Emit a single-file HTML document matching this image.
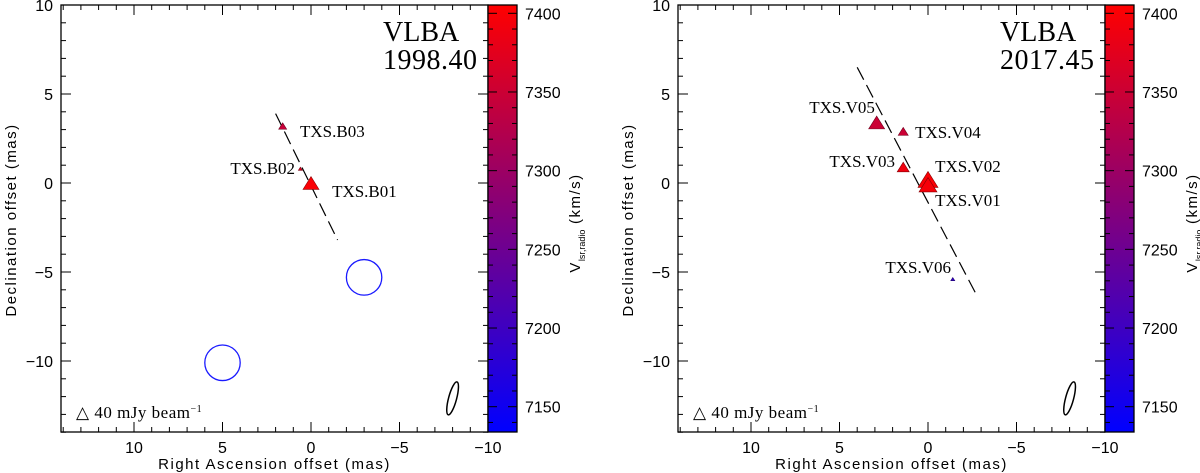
<!DOCTYPE html>
<html><head><meta charset="utf-8"><style>
html,body{margin:0;padding:0;background:#fff;}
svg{display:block;}
.tk{font-family:"Liberation Sans",sans-serif;font-size:16px;fill:#000;}
.ax{font-family:"Liberation Sans",sans-serif;font-size:15px;letter-spacing:1.5px;fill:#000;}
.sf{font-family:"Liberation Serif",serif;fill:#000;}
</style></head><body>
<svg id="fig" width="1200" height="473" viewBox="0 0 1200 473" xmlns="http://www.w3.org/2000/svg"></svg>
<script>
// Panel 1 (1998.40)
const p1Names = ["TXS.B01","TXS.B02","TXS.B03"];
const p1RA = [0, 0.6, 1.6];
const p1Dec = [0, 0.8, 3.2];
const p1Vel = [7400, 7370, 7345];
const p1Size = [16, 4, 8];
const p1LabelRA = [-1.19, 0.9, 0.62];
const p1LabelDec = [-0.79, 0.5, 2.58];
const p1Anchor = ["start","end","start"];
const p1Line = [[2.0, 3.9], [-1.5, -3.2]];
const p1Circles = [[-3, -5.3], [5, -10.1]];
// Panel 2 (2017.45)
const p2Names = ["TXS.V05","TXS.V04","TXS.V03","TXS.V02","TXS.V01","TXS.V06"];
const p2RA = [2.9, 1.4, 1.4, 0, 0, -1.4];
const p2Dec = [3.4, 2.9, 0.9, 0.2, -0.1, -5.4];
const p2Vel = [7350, 7350, 7390, 7400, 7395, 7190];
const p2Size = [16, 10, 12, 20, 18, 4];
const p2LabelRA = [3.0, 0.73, 1.86, -0.4, -0.4, -1.3];
const p2LabelDec = [3.93, 2.53, 0.9, 0.62, -1.29, -5.06];
const p2Anchor = ["end","start","end","start","start","end"];
const p2Line = [[4.0, 6.5], [-2.8, -6.4]];
const p2Circles = [];
const xTicks = [10, 5, 0, -5, -10];
const yTicks = [10, 5, 0, -5, -10];
const cbTicks = [7400, 7350, 7300, 7250, 7200, 7150];

const NS = "http://www.w3.org/2000/svg";
const svg = document.getElementById("fig");
function mk(tag, attrs, parent, text){
  const e = document.createElementNS(NS, tag);
  for (const k in attrs) e.setAttribute(k, attrs[k]);
  if (text !== undefined) e.textContent = text;
  (parent||svg).appendChild(e);
  return e;
}
function vrgb(v){
  let t = (v - 7134) / (7405 - 7134); t = Math.max(0, Math.min(1, t));
  return [Math.round(255*t), 0, Math.round(255*(1-t))];
}
function vcol(v){ const c = vrgb(v); return "rgb(" + c.join(",") + ")"; }
function vdark(v){ const c = vrgb(v).map(x => Math.round(x*0.55)); return "rgb(" + c.join(",") + ")"; }

function panel(off, id, epoch, names, ra, dec, vel, size, lra, ldec, anch, line, circles){
  const g = mk("g", {});
  
  
  const L = 61 + off, R = 488 + off, T = 5, B = 432;
  const X = v => 311 + off - v * 17.7;
  const Y = v => 183 - v * 17.8;
  const fr = mk("rect", {x:L, y:T, width:R-L, height:B-T, fill:"none", stroke:"#000", "stroke-width":1.3}, g);
  
  
  for (let v = 14; v >= -10; v--) {
    const x = X(v); const len = (v % 5 === 0) ? 10 : 5;
    mk("line", {x1:x, y1:B, x2:x, y2:B-len, stroke:"#000"}, g);
    mk("line", {x1:x, y1:T, x2:x, y2:T+len, stroke:"#000"}, g);
  }
  for (let v = -14; v <= 10; v++) {
    const y = Y(v); const len = (v % 5 === 0) ? 10 : 5;
    mk("line", {x1:L, y1:y, x2:L+len, y2:y, stroke:"#000"}, g);
    mk("line", {x1:R, y1:y, x2:R-len, y2:y, stroke:"#000"}, g);
  }
  xTicks.forEach(v => {
    const t = mk("text", {x:X(v), y:453, "text-anchor":"middle", class:"tk"}, g, v < 0 ? "\u2212" + (-v) : String(v));
    
    
  });
  yTicks.forEach(v => {
    const t = mk("text", {x:L-8, y:Y(v)+6, "text-anchor":"end", class:"tk"}, g, v < 0 ? "\u2212" + (-v) : String(v));
    
    
  });
  const xt = mk("text", {x:(L+R)/2, y:469, "text-anchor":"middle", class:"ax"}, g, "Right Ascension offset (mas)");
  
  
  const yt = mk("text", {x:0, y:0, "text-anchor":"middle", class:"ax", transform:"translate(" + (off+16) + ",220) rotate(-90)"}, g, "Declination offset (mas)");
  
  
  const t1 = mk("text", {x:R-105, y:41, class:"sf", "font-size":"28"}, g, "VLBA");
  
  
  const t2 = mk("text", {x:R-105, y:69, class:"sf", "font-size":"28", "letter-spacing":"0.5"}, g, epoch);
  
  
  const dl = mk("line", {x1:X(line[0][0]), y1:Y(line[0][1]), x2:X(line[1][0]), y2:Y(line[1][1]), stroke:"#000", "stroke-width":1.2, "stroke-dasharray":"14 6"}, g);
  
  
  circles.forEach(c => {
    const ci = mk("ellipse", {cx:X(c[0]), cy:Y(c[1]), rx:17.7, ry:17.8, fill:"none", stroke:"#1a1aff", "stroke-width":1.3}, g);
    
    
  });
  names.forEach((n, i) => {
    const cx = X(ra[i]), cy = Y(dec[i]), s = size[i], h = s * 0.8;
    const tri = mk("polygon", {points:(cx-s/2)+","+(cy+h/2)+" "+(cx+s/2)+","+(cy+h/2)+" "+cx+","+(cy-h/2), fill:vcol(vel[i]), stroke:vdark(vel[i]), "stroke-width":0.6}, g);
    
    
    const lb = mk("text", {x:X(lra[i]), y:Y(ldec[i]), "text-anchor":anch[i], class:"sf", "font-size":"17"}, g, n);
    
    
  });
  const bm = mk("ellipse", {cx:X(-8), cy:Y(-12.1), rx:4, ry:17, fill:"none", stroke:"#000", "stroke-width":1.5, transform:"rotate(15 " + X(-8) + " " + Y(-12.1) + ")"}, g);
  
  
  const fl = mk("text", {x:L+15, y:418, class:"sf", "font-size":"17", "letter-spacing":"0.5"}, g, "\u25B3 40 mJy beam");
  
  
  mk("tspan", {dy:"-6", "font-size":"10"}, fl, "\u22121");
  const gid = "cg" + off;
  const defs = mk("defs", {}, g);
  const lg = mk("linearGradient", {id:gid, x1:0, y1:0, x2:0, y2:1}, defs);
  mk("stop", {offset:"0", "stop-color":"#ff0000"}, lg);
  mk("stop", {offset:"1", "stop-color":"#0000ff"}, lg);
  const cb = mk("rect", {x:R, y:T, width:29, height:B-T, fill:"url(#"+gid+")", stroke:"#000", "stroke-width":1.3}, g);
  
  
  const CY = v => 13.3 + (7400 - v) * (406.7 - 13.3) / 250;
  for (let v = 7140; v <= 7400; v += 10) {
    const len = (v % 50 === 0) ? 9 : 5;
    mk("line", {x1:R, y1:CY(v), x2:R+len, y2:CY(v), stroke:"#000"}, g);
    mk("line", {x1:R+29, y1:CY(v), x2:R+29-len, y2:CY(v), stroke:"#000"}, g);
  }
  cbTicks.forEach(v => {
    const t = mk("text", {x:R+37, y:CY(v)+6, class:"tk"}, g, String(v));
    
    
  });
  const cl = mk("text", {x:0, y:0, "text-anchor":"middle", class:"ax", transform:"translate(" + (R+92) + ",223) rotate(-90)"}, g);
  
  
  cl.textContent = "V";
  mk("tspan", {dy:"5", "font-size":"9", "letter-spacing":"0"}, cl, "lsr,radio");
  mk("tspan", {dy:"-5"}, cl, "  (km/s)");
}
panel(0, "panel-1998", "1998.40", p1Names, p1RA, p1Dec, p1Vel, p1Size, p1LabelRA, p1LabelDec, p1Anchor, p1Line, p1Circles);
panel(617, "panel-2017", "2017.45", p2Names, p2RA, p2Dec, p2Vel, p2Size, p2LabelRA, p2LabelDec, p2Anchor, p2Line, p2Circles);
</script>
</body></html>
